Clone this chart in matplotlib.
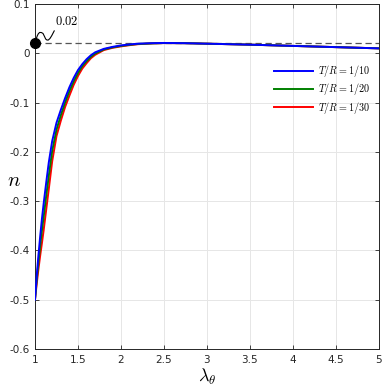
import matplotlib
matplotlib.use("Agg")
import matplotlib.pyplot as plt
import numpy as np

plt.rcParams['mathtext.fontset'] = 'cm'
plt.rcParams['axes.unicode_minus'] = False
plt.rcParams['font.family'] = ['DejaVu Sans']

# Data
lam_blue = [1.00, 1.02, 1.04, 1.06, 1.08, 1.10, 1.13, 1.16, 1.20, 1.25, 1.30, 1.35, 1.40, 1.45, 1.50,
            1.55, 1.60, 1.65, 1.70, 1.80, 1.90, 2.00, 2.10, 2.20, 2.35, 2.50, 2.75, 3.00, 3.50, 4.00, 4.50, 5.00]
n_blue = [-0.500, -0.452, -0.410, -0.372, -0.337, -0.306, -0.263, -0.222, -0.178, -0.141, -0.115, -0.091,
          -0.069, -0.050, -0.034, -0.022, -0.012, -0.004, 0.002, 0.009, 0.013, 0.016, 0.018, 0.0195, 0.0205,
          0.021, 0.0205, 0.0195, 0.0175, 0.015, 0.0125, 0.010]

lam_green = lam_blue
n_green = [-0.500, -0.460, -0.424, -0.391, -0.360, -0.333, -0.290, -0.249, -0.198, -0.155, -0.126, -0.100,
           -0.077, -0.057, -0.040, -0.026, -0.016, -0.007, -0.0005, 0.0078, 0.012, 0.015, 0.0172, 0.019, 0.020,
           0.0208, 0.0205, 0.0195, 0.0175, 0.015, 0.0125, 0.010]

lam_red = lam_blue
n_red = [-0.500, -0.468, -0.438, -0.411, -0.386, -0.360, -0.318, -0.276, -0.219, -0.168, -0.137, -0.109,
         -0.086, -0.064, -0.046, -0.031, -0.020, -0.010, -0.003, 0.0065, 0.011, 0.014, 0.0165, 0.0185, 0.020,
         0.0207, 0.0205, 0.0195, 0.0175, 0.015, 0.0125, 0.010]

labels = [r'$T/R=1/10$', r'$T/R=1/20$', r'$T/R=1/30$']
colors = ['#0000ff', '#008000', '#ff0000']

ref_value = 0.02
ref_label = r'$0.02$'

x_ticks = [1, 1.5, 2, 2.5, 3, 3.5, 4, 4.5, 5]
x_ticklabels = ['1', '1.5', '2', '2.5', '3', '3.5', '4', '4.5', '5']
y_ticks = [-0.6, -0.5, -0.4, -0.3, -0.2, -0.1, 0, 0.1]
y_ticklabels = ['-0.6', '-0.5', '-0.4', '-0.3', '-0.2', '-0.1', '0', '0.1']

fig = plt.figure(figsize=(3.82, 3.86), dpi=100)
ax = fig.add_axes([0.0916, 0.0959, 0.9004, 0.8937])

series = [(lam_blue, n_blue), (lam_green, n_green), (lam_red, n_red)]
handles = [None] * 3
for i in [2, 1, 0]:
    xs, ys = series[i]
    h, = ax.plot(xs, ys, color=colors[i], lw=1.4, label=labels[i], zorder=3 + (2 - i),
                 solid_joinstyle='round')
    handles[i] = h

ax.set_xlim(1, 5)
ax.set_ylim(-0.6, 0.1)

ax.axhline(ref_value, color='#555555', lw=0.9, ls=(0, (5, 3)), zorder=2)
ax.plot([1], [ref_value], 'o', color='black', ms=7, zorder=6, clip_on=False)

# squiggle connector (offsets in pixels from the dot)
base = ax.transData.transform((1, ref_value))
sq_dx = [0, 1.0, 2.3, 3.4, 4.7, 6.4, 8.0, 9.4, 10.7, 12.0, 13.3, 15.0, 16.7, 18.0, 19.3]
sq_dy = [0, 3.8, 7.7, 9.8, 11.0, 10.9, 10.0, 7.2, 4.4, 3.4, 3.4, 5.0, 7.7, 10.2, 12.7]
ax.plot(np.array(sq_dx) + base[0], np.array(sq_dy) + base[1], color='black', lw=0.8,
        transform=None, zorder=6, clip_on=False, solid_capstyle='round')
ax.annotate(ref_label, xy=(1, ref_value), xytext=(14.5, 15.5), textcoords='offset points',
            fontsize=9, ha='left', va='center')

ax.set_xticks(x_ticks)
ax.set_xticklabels(x_ticklabels)
ax.set_yticks(y_ticks)
ax.set_yticklabels(y_ticklabels)
ax.tick_params(direction='in', top=True, right=True, labelsize=7.5, colors='#262626', length=3, width=0.6, pad=4)
ax.grid(True, color='#e6e6e6', lw=0.7)
ax.set_axisbelow(True)
for sp in ax.spines.values():
    sp.set_color('#262626')
    sp.set_linewidth(0.7)

ax.set_xlabel(r'$\lambda_\theta$', fontsize=13, labelpad=2)
ax.set_ylabel(r'$n$', fontsize=15, rotation=0, va='center', ha='center')
ax.yaxis.set_label_coords(-0.062, 0.49)

ax.legend(handles=handles, labels=labels, loc='upper right', bbox_to_anchor=(1.0, 0.855),
          frameon=False, fontsize=7.3, handlelength=3.8, handletextpad=0.5, labelspacing=0.22)

fig.savefig('out.png', dpi=100)
